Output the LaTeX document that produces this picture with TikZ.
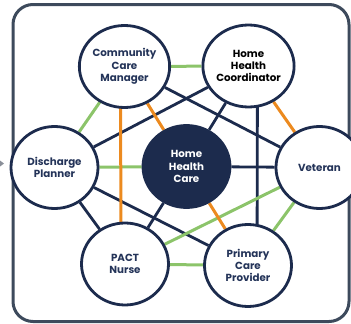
\documentclass[tikz,border=0pt]{standalone}
\usepackage{fontspec}
\setmainfont{Poppins}
\usetikzlibrary{shapes.geometric,backgrounds}

\definecolor{navy}{HTML}{1C2B4D}
\definecolor{navytext}{HTML}{243459}
\definecolor{framegray}{HTML}{3D4A5C}
\definecolor{linkgreen}{HTML}{8CC46A}
\definecolor{linkorange}{HTML}{EC8A1F}
\definecolor{arrowgray}{HTML}{8A8F99}

\begin{document}
\begin{tikzpicture}[x=1pt,y=-1pt]
	\tikzstyle{role}=[draw=navy,fill=white,line width=2.8pt,shape=ellipse,minimum width=87pt,minimum height=82pt,inner sep=0pt,align=center,text=navytext,font=\fontsize{10.3}{12.3}\selectfont\bfseries]
	\tikzstyle{hub}=[role,fill=navy,text=white]
	\tikzstyle{plain}=[draw=navy,line width=2.8pt]
	\tikzstyle{good}=[draw=linkgreen,line width=3pt]
	\tikzstyle{key}=[draw=linkorange,line width=3pt]

	\useasboundingbox (0,0) rectangle (351,324);

	\node[role](ccm) at (124.5,66.5){Community\\Care\\Manager};
	\node[role,text=black](coord) at (248.5,66){Home\\Health\\Coordinator};
	\node[role](dis) at (54.5,167.5){Discharge\\Planner};
	\node[hub](hhc) at (186.5,166.5){Home\\Health\\Care};
	\node[role](vet) at (319.5,167.5){Veteran};
	\node[role](pact) at (125,264){PACT\\Nurse};
	\node[role](pcp) at (248,265.5){Primary\\Care\\Provider};

	\begin{pgfonlayer}{background}
		\draw[framegray,line width=3pt,rounded corners=20pt] (13,4.5) rectangle (349,321.5);
		\fill[arrowgray] (0,160.5) -- (4,163.5) -- (0,166.5) -- cycle;

		% navy links
		\draw[plain] (ccm) -- (vet);
		\draw[plain] (coord) -- (dis);
		\draw[plain] (coord) -- (hhc);
		\draw[plain] ([xshift=9pt]coord.center) -- ([xshift=9pt]pcp.center);
		\draw[plain] (hhc) -- (vet);
		\draw[plain] (dis) -- (pcp);
		\draw[plain] (dis) -- (pact);
		\draw[plain] (hhc) -- (pact);

		% green links
		\draw[good] (ccm) -- (coord);
		\draw[good] (ccm) -- (dis);
		\draw[good] (dis) -- (hhc);
		\draw[good] (vet) -- (pact);
		\draw[good] (vet) -- (pcp);
		\draw[good] (pact) -- (pcp);

		% orange links
		\draw[key] (ccm) -- (hhc);
		\draw[key] ([xshift=-4pt]ccm.center) -- ([xshift=-4pt]pact.center);
		\draw[key] (coord) -- (vet);
		\draw[key] (hhc) -- (pcp);
	\end{pgfonlayer}
\end{tikzpicture}
\end{document}
